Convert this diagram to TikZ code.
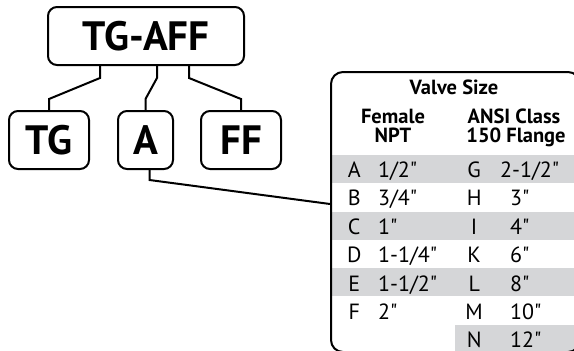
\documentclass[tikz,border=0pt]{standalone}
\usepackage{fontspec}
\setmainfont{PT Sans}[Ligatures=TeXOff]
\usepackage{tikz}
\usetikzlibrary{positioning, calc, matrix}

\definecolor{rowgray}{HTML}{D5D6D8}
\tikzset{
  tag/.style={draw, line width=2pt, rounded corners=9pt, inner sep=0pt, minimum height=58pt, font=\fontsize{41}{41}\selectfont\bfseries},
  link/.style={line width=2pt},
  head/.style={inner sep=0pt, anchor=base, font=\fontsize{20.5}{19}\selectfont\bfseries},
  stripe/.style={fill=rowgray}
}

\begin{document}
\begin{tikzpicture}[x=1pt,y=-1pt]
\useasboundingbox (0,0) rectangle (574,351);
% shaded rows
\foreach \y in {155,212,268}
  \fill[stripe] (332,\y) rectangle (574,\y+28.4);
\fill[stripe] (455,325) rectangle (574,351);
\node[draw, line width=2pt, rounded corners=12pt, minimum width=249pt, minimum height=280pt] (valves) at (455.5,212) {};
\node[head] (title) at (454,94) {Valve Size};
\node[head] (female) at (393,123) {Female};
\node[head] (npt) at (393,142) {NPT};
\node[head] (ansi) at (514,123) {ANSI Class};
\node[head] (flange) at (516,142) {150 Flange};
\matrix (sizes) [matrix of nodes, anchor=north west, inner sep=0pt, row sep=0pt, column sep=0pt,
  nodes={inner sep=0pt, minimum height=28.4pt, text height=16pt, text depth=0pt, font=\fontsize{22}{22}\selectfont},
  column 1/.style={nodes={minimum width=20pt}},
  column 2/.style={nodes={text width=86pt, align=left}},
  column 3/.style={nodes={minimum width=20pt}},
  column 4/.style={nodes={text width=74pt, align=left}},
  row 7/.style={nodes={minimum height=16pt}}] at (344,155)
{
  A &[14pt] 1/2"    & G &[16pt] |[xshift=-10pt]| 2-1/2" \\
  B & 3/4"    & H & 3"  \\
  C & 1"      & I & 4"  \\
  D & 1-1/4"  & K & 6"  \\
  E & 1-1/2"  & L & 8"  \\
  F & 2"      & M & 10" \\[6.2pt]
    &         & N & 12" \\
};
% model code tree
\node[tag, minimum width=196pt] (code) at (146,36) {TG-AFF};
\node[tag, minimum width=80pt] (tg) at (49,140) {TG};
\node[tag, minimum width=55pt] (a) at (145.5,140) {A};
\node[tag, minimum width=80pt] (ff) at (241,140) {FF};
\draw[link] (code.south -| 100,0) -- ++(0,12) -- ($(tg.north)+(0,-11)$) -- (tg.north);
\draw[link] (code.south -| 157,0) -- ++(0,12) -- ($(a.north)+(0,-11)$) -- (a.north);
\draw[link] (code.south -| 189,0) -- ++(0,12) -- ($(ff.north)+(0,-11)$) -- (ff.north);
\draw[link] ($(a.south)+(4,0)$) -- ++(0,10) -- (valves.west |- 0,204);
\end{tikzpicture}
\end{document}
